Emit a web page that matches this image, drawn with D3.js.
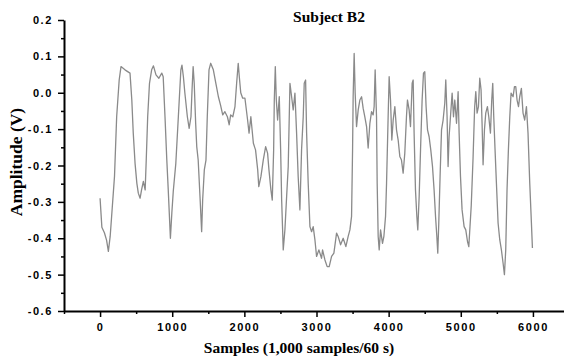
<!DOCTYPE html>
<html>
<head>
<meta charset="utf-8">
<script src="https://cdn.jsdelivr.net/npm/d3@7"></script>
<style>
  body { margin: 0; background: #fff; }
  .tick text { font-family: "Liberation Sans", Arial, sans-serif; font-weight: bold; font-size: 11px; letter-spacing: 1.6px; fill: #000; }
  .lbl { font-family: "Liberation Serif", "Times New Roman", serif; font-weight: bold; fill: #000; }
</style>
</head>
<body>
<div id="chart"></div>
<script>
// signal (sample index, volts)
const samples = [
  0, 25, 60, 90, 115, 140, 160, 200, 230, 265, 290, 345, 415, 440, 460, 485, 510, 530, 555, 575,
  600, 625, 640, 660, 685, 715, 740, 775, 815, 855, 875, 900, 925, 945, 975, 995, 1015, 1050, 1085, 1120,
  1135, 1155, 1175, 1210, 1235, 1260, 1275, 1290, 1305, 1325, 1340, 1360, 1385, 1408, 1422, 1445, 1468, 1486, 1510, 1533,
  1570, 1605, 1640, 1670, 1700, 1730, 1765, 1790, 1810, 1840, 1870, 1893, 1915, 1930, 1950, 1977, 2008, 2045, 2065, 2090,
  2125, 2155, 2185, 2200, 2230, 2262, 2295, 2322, 2341, 2368, 2387, 2406, 2415, 2429, 2443, 2461, 2484, 2503, 2517, 2539,
  2562, 2586, 2608, 2632, 2655, 2677, 2701, 2724, 2746, 2770, 2793, 2816, 2830, 2849, 2863, 2885, 2909, 2932, 2954, 2978,
  3001, 3033, 3070, 3084, 3116, 3148, 3176, 3209, 3241, 3278, 3300, 3334, 3370, 3407, 3439, 3463, 3486, 3500, 3508, 3522,
  3536, 3555, 3578, 3601, 3625, 3647, 3670, 3694, 3716, 3740, 3763, 3785, 3799, 3813, 3832, 3841, 3855, 3869, 3888, 3915,
  3934, 3957, 3971, 3993, 4007, 4026, 4044, 4063, 4086, 4109, 4132, 4155, 4178, 4201, 4224, 4247, 4261, 4284, 4303, 4326,
  4340, 4353, 4372, 4391, 4404, 4423, 4442, 4464, 4483, 4501, 4519, 4539, 4561, 4584, 4608, 4630, 4650, 4668, 4681, 4695,
  4713, 4733, 4755, 4778, 4792, 4810, 4824, 4838, 4857, 4880, 4899, 4917, 4941, 4963, 4977, 4996, 5018, 5046, 5069, 5093,
  5111, 5145, 5170, 5192, 5208, 5226, 5245, 5263, 5281, 5295, 5309, 5328, 5346, 5369, 5388, 5411, 5429, 5443, 5457, 5475,
  5494, 5517, 5540, 5563, 5586, 5605, 5623, 5641, 5660, 5679, 5697, 5725, 5744, 5762, 5780, 5800, 5817, 5840, 5863, 5886,
  5910, 5932, 5956, 5979, 5993
];
const amplitude = [
  -0.29, -0.37, -0.385, -0.405, -0.436, -0.395, -0.34, -0.23, -0.066, 0.035, 0.072, 0.063, 0.054, -0.02, -0.111, -0.194, -0.249, -0.276, -0.29, -0.267,
  -0.244, -0.267, -0.185, -0.066, 0.026, 0.063, 0.074, 0.049, 0.04, 0.054, 0.044, -0.066, -0.185, -0.267, -0.4, -0.33, -0.27, -0.194, -0.066, 0.063,
  0.076, 0.044, 0.0, -0.066, -0.098, -0.066, 0.008, 0.072, 0.026, -0.084, -0.148, -0.185, -0.285, -0.382, -0.295, -0.212, -0.185, -0.066, 0.063, 0.081,
  0.063, 0.026, -0.011, -0.034, -0.061, -0.052, -0.066, -0.088, -0.061, -0.066, -0.038, 0.026, 0.081, 0.044, 0.0, -0.015, -0.015, -0.075, -0.111, -0.066,
  -0.139, -0.157, -0.212, -0.258, -0.23, -0.185, -0.148, -0.166, -0.212, -0.267, -0.295, -0.157, -0.02, 0.072, -0.02, -0.075, -0.011, -0.157, -0.295, -0.432,
  -0.377, -0.285, -0.203, 0.026, -0.011, -0.047, -0.001, -0.111, -0.23, -0.322, -0.157, -0.066, 0.026, 0.035, -0.111, -0.249, -0.368, -0.382, -0.368, -0.404,
  -0.45, -0.432, -0.455, -0.432, -0.459, -0.478, -0.478, -0.45, -0.441, -0.386, -0.395, -0.418, -0.4, -0.423, -0.395, -0.377, -0.34, -0.157, -0.011, 0.108,
  -0.001, -0.093, -0.047, -0.02, -0.011, -0.043, -0.066, -0.093, -0.152, -0.084, -0.052, -0.061, -0.038, 0.063, -0.066, -0.249, -0.395, -0.432, -0.377, -0.414,
  -0.395, -0.34, -0.249, -0.066, 0.044, -0.02, -0.13, -0.075, -0.038, -0.102, -0.13, -0.175, -0.185, -0.221, -0.166, -0.066, -0.02, -0.047, -0.093, 0.026,
  0.035, -0.111, -0.267, -0.34, -0.377, -0.285, -0.157, -0.02, 0.054, 0.058, -0.038, -0.102, -0.121, -0.157, -0.203, -0.267, -0.34, -0.395, -0.441, -0.358,
  -0.23, -0.102, -0.075, -0.029, 0.035, -0.066, -0.203, -0.121, -0.066, -0.001, -0.066, -0.02, -0.084, 0.003, -0.111, -0.23, -0.322, -0.368, -0.377, -0.409,
  -0.423, -0.31, -0.18, -0.04, 0.003, -0.056, -0.038, 0.04, 0.008, -0.084, -0.198, -0.102, -0.056, -0.038, -0.066, -0.111, -0.02, 0.026, -0.066, -0.157,
  -0.249, -0.358, -0.404, -0.432, -0.468, -0.5, -0.432, -0.267, -0.157, -0.066, -0.001, -0.011, 0.017, 0.017, -0.02, -0.038, -0.011, 0.012, -0.056, -0.075,
  -0.038, -0.111, -0.249, -0.358, -0.427
];

const xTicks = [0, 1000, 2000, 3000, 4000, 5000, 6000];
const xLabels = ['0', '1000', '2000', '3000', '4000', '5000', '6000'];
const xMinor = [-500, 500, 1500, 2500, 3500, 4500, 5500, 6500];
const yTicks = [-0.6, -0.5, -0.4, -0.3, -0.2, -0.1, 0.0, 0.1, 0.2];
const yLabels = ['-0.6', '-0.5', '-0.4', '-0.3', '-0.2', '-0.1', '0.0', '0.1', '0.2'];
const yMinor = [-0.55, -0.45, -0.35, -0.25, -0.15, -0.05, 0.05, 0.15];

const title = 'Subject B2';
const xTitle = 'Samples (1,000 samples/60 s)';
const yTitle = 'Amplitude (V)';

const width = 564, height = 360;
const svg = d3.select('#chart').append('svg')
  .attr('width', width)
  .attr('height', height)
  .style('background', '#fff');

const x = d3.scaleLinear().domain([-500, 6500]).range([64, 569]);
const y = d3.scaleLinear().domain([-0.6, 0.2]).range([311, 20]);

const points = samples.map((s, i) => [s, amplitude[i]]);

const line = d3.line()
  .x(d => x(d[0]))
  .y(d => y(d[1]));

svg.append('path')
  .datum(points)
  .attr('fill', 'none')
  .attr('stroke', '#8a8a8a')
  .attr('stroke-width', 1.3)
  .attr('stroke-linejoin', 'round')
  .attr('d', line);

// minor ticks first, majors on top
svg.append('g')
  .attr('transform', `translate(0,${y(-0.6)})`)
  .call(d3.axisBottom(x).tickValues(xMinor).tickSize(3).tickFormat('').tickSizeOuter(0))
  .call(g => g.select('.domain').remove());

svg.append('g')
  .attr('transform', `translate(${x(-500)},0)`)
  .call(d3.axisLeft(y).tickValues(yMinor).tickSize(3).tickFormat('').tickSizeOuter(0))
  .call(g => g.select('.domain').remove());

svg.append('g')
  .attr('transform', `translate(0,${y(-0.6)})`)
  .call(d3.axisBottom(x).tickValues(xTicks).tickSize(6).tickPadding(6).tickSizeOuter(0)
    .tickFormat((d, i) => xLabels[i]));

svg.append('g')
  .attr('transform', `translate(${x(-500)},0)`)
  .call(d3.axisLeft(y).tickValues(yTicks).tickSize(6).tickPadding(5).tickSizeOuter(0)
    .tickFormat((d, i) => yLabels[i]));

svg.selectAll('.domain').attr('stroke', '#000').attr('stroke-width', 2);
svg.selectAll('.tick line').attr('stroke', '#000').attr('stroke-width', 1.5);

svg.append('text')
  .attr('class', 'lbl')
  .attr('x', 329)
  .attr('y', 22)
  .attr('text-anchor', 'middle')
  .attr('font-size', 15.5)
  .text(title);

svg.append('text')
  .attr('class', 'lbl')
  .attr('x', 299)
  .attr('y', 353)
  .attr('text-anchor', 'middle')
  .attr('font-size', 15.5)
  .text(xTitle);

svg.append('text')
  .attr('class', 'lbl')
  .attr('transform', 'translate(22,162) rotate(-90)')
  .attr('text-anchor', 'middle')
  .attr('font-size', 17.5)
  .text(yTitle);
</script>
</body>
</html>
